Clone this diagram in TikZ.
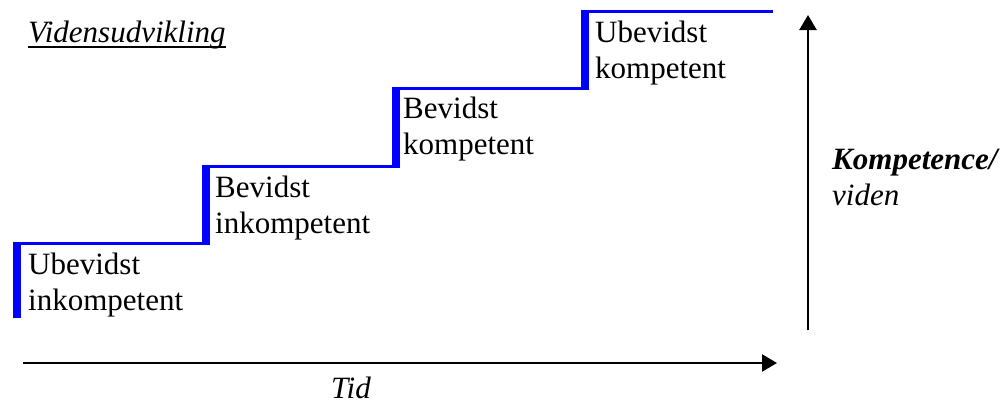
\documentclass[tikz,border=0pt]{standalone}
\usepackage{fontspec}
\setmainfont{Liberation Serif}
\usetikzlibrary{arrows.meta}
\begin{document}
\begin{tikzpicture}[x=1pt,y=-1pt,
  lbl/.style={anchor=base west, inner sep=0pt, align=left, font=\fontsize{31}{36}\selectfont},
  bar/.style={draw=blue, line width=8pt},
  tread/.style={draw=blue, line width=3pt},
  axis/.style={draw=black, line width=2.5pt, -{Triangle[length=15pt,width=17pt]}}]
\useasboundingbox (0,0) rectangle (1008,405);
% staircase
\coordinate (a0) at (17,318);   \coordinate (a1) at (17,242);
\coordinate (h1s) at (13,243.5); \coordinate (h1e) at (210,243.5);
\coordinate (b0) at (206,245);  \coordinate (b1) at (206,165);
\coordinate (h2s) at (202,166.5); \coordinate (h2e) at (400,166.5);
\coordinate (c0) at (396,168);  \coordinate (c1) at (396,87);
\coordinate (h3s) at (392,88.5); \coordinate (h3e) at (589,88.5);
\coordinate (d0) at (585,90);   \coordinate (d1) at (585,10);
\coordinate (h4s) at (581,11.5); \coordinate (h4e) at (773,11.5);
\draw[bar] (a0) -- (a1);
\draw[tread] (h1s) -- (h1e);
\draw[bar] (b0) -- (b1);
\draw[tread] (h2s) -- (h2e);
\draw[bar] (c0) -- (c1);
\draw[tread] (h3s) -- (h3e);
\draw[bar] (d0) -- (d1);
\draw[tread] (h4s) -- (h4e);
% labels (anchor = baseline of the last line)
\node[lbl] (s1) at (28,310) {Ubevidst\\inkompetent};
\node[lbl] (s2) at (215,233) {Bevidst\\inkompetent};
\node[lbl] (s3) at (403,154) {Bevidst\\kompetent};
\node[lbl] (s4) at (595,78) {Ubevidst\\kompetent};
% title
\node[lbl, font=\fontsize{31}{36}\selectfont\itshape] (title) at (28,42) {Vidensudvikling};
\draw[line width=2pt] ([yshift=-5pt]title.base west) -- ([yshift=-5pt]title.base east);
% axes
\coordinate (t0) at (23,363); \coordinate (t1) at (777,363);
\draw[axis] (t0) -- (t1);
\coordinate (v0) at (808,330); \coordinate (v1) at (808,15);
\draw[axis] (v0) -- (v1);
\node[anchor=base, inner sep=0pt, font=\fontsize{31}{36}\selectfont\itshape] (tid) at (351,398) {Tid};
\node[lbl] (komp) at (832,205) {\textbf{\textit{Kompetence/}}\\\textit{viden}};
\end{tikzpicture}
\end{document}
